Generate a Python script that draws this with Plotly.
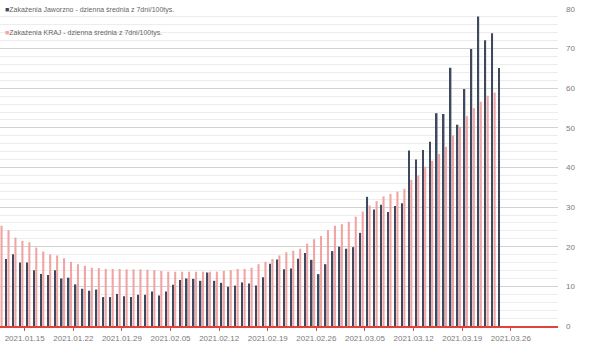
import pandas as pd
import plotly.graph_objects as go

start_date = "2021-01-11"
n_days = 73
dates = pd.date_range(start_date, periods=n_days) + pd.Timedelta(hours=12)

jaworzno = [None,
    16.9, 18.1, 16.0, 16.0, 14.1, 13.1, 12.9, 14.1, 12.0, 12.2, 10.5, 9.4, 8.9, 9.2, 7.3, 7.3, 8.1, 7.5, 7.3, 7.9,
    7.9, 8.7, 7.7, 8.7, 10.4, 11.6, 12.0, 11.9, 11.4, 13.5, 11.4, 10.9, 9.9, 10.2, 11.0, 10.7, 10.2, 12.3, 15.7, 16.8,
    14.3, 14.5, 17.0, 18.4, 16.7, 13.1, 15.6, 18.9,
    20.0, 19.5, 19.9, 23.5, 32.6, 29.4, 30.6, 28.8, 30.3, 31.0, 44.3, 42.0, 44.4, 46.5, 53.7, 53.5, 65.2, 50.8,
    59.8, 69.9, 78.1, 72.1, 73.9, 65.1]

kraj = [
    25.3, 24.2, 22.3, 21.5, 21.1, 19.8, 18.8, 18.1, 17.8, 17.1, 16.2, 15.6, 15.2, 14.7, 14.6, 14.4, 14.4, 14.4, 14.3, 14.3, 14.3,
    14.2, 14.1, 13.9, 13.7, 13.7, 13.7, 13.7, 13.7, 13.7, 13.7, 13.7, 13.9, 14.1, 14.4, 14.4, 14.7, 15.6, 16.2, 16.9, 17.8,
    18.6, 19.0, 19.5, 20.8, 21.9, 22.7, 24.2, 25.3,
    25.7, 26.3, 27.6, 28.9, 30.4, 31.5, 32.7, 33.3, 33.9, 34.6, 36.9, 38.0, 40.2, 41.7, 43.4, 45.2, 48.1, 50.3,
    53.0, 55.0, 56.6, 58.1, 58.9, None]

name_jaw = "Zakażenia Jaworzno - dzienna średnia z 7dni/100tys."
name_kraj = "Zakażenia KRAJ - dzienna średnia z 7dni/100tys."
y_ticks = [0, 10, 20, 30, 40, 50, 60, 70, 80]

DARK = "#3e4960"
PINK = "#f0a4a4"
RED = "#e0423c"
GREY = "#7a7a7a"
FONT = "Liberation Sans Narrow, Liberation Sans, Arial, sans-serif"
DAY = 86400000

fig = go.Figure()
fig.add_trace(go.Bar(x=dates, y=jaworzno, name=name_jaw, marker_color=DARK,
                     marker_line_width=0, width=0.22 * DAY, offset=-0.28 * DAY,
                     showlegend=False))
fig.add_trace(go.Bar(x=dates, y=kraj, name=name_kraj, marker_color=PINK,
                     marker_line_width=0, width=0.30 * DAY, offset=0.02 * DAY,
                     showlegend=False))

fig.update_layout(
    width=609, height=342,
    margin=dict(l=0, r=51, t=9, b=16),
    paper_bgcolor="white", plot_bgcolor="white",
    barmode="overlay",
    font=dict(family=FONT, size=8, color=GREY),
    xaxis=dict(
        type="date",
        range=["2021-01-11 10:40", "2021-04-01 19:00"],
        tick0="2021-01-15", dtick=7 * DAY, tickformat="%Y.%m.%d",
        showgrid=False, showline=True, linecolor=RED, linewidth=2,
        ticks="outside", tickcolor=RED, ticklen=3, tickwidth=1,
        tickfont=dict(size=8, color=GREY, family=FONT),
        automargin=False,
    ),
    yaxis=dict(
        side="right", range=[0, 80], tickvals=y_ticks,
        showgrid=True, gridcolor="#d2d2d2", gridwidth=1,
        minor=dict(dtick=2, showgrid=True, gridcolor="#ededed", gridwidth=1),
        zeroline=False, showline=False, ticks="",
        ticklabelstandoff=7,
        tickfont=dict(size=8, color=GREY, family=FONT),
        automargin=False,
    ),
    annotations=[
        dict(xref="paper", yref="paper", x=0.006, y=0.997, xanchor="left", yanchor="middle",
             showarrow=False, align="left",
             text=f'<span style="color:{DARK}">■</span>{name_jaw}',
             font=dict(size=7, color="#666666", family=FONT)),
        dict(xref="paper", yref="paper", x=0.006, y=0.924, xanchor="left", yanchor="middle",
             showarrow=False, align="left",
             text=f'<span style="color:{PINK}">■</span>{name_kraj}',
             font=dict(size=7, color="#666666", family=FONT)),
    ],
)

fig.write_html("out.html")
